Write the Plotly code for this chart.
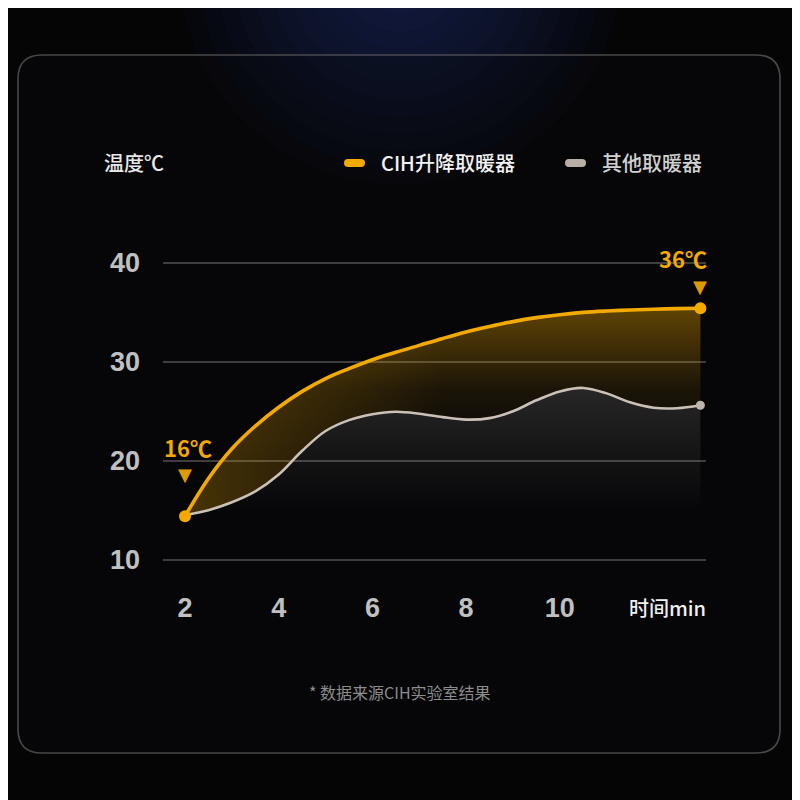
import plotly.graph_objects as go

# data (minutes, degrees C)
cih_time = [2, 2.5, 3, 3.5, 4, 4.5, 5, 5.5, 6, 6.5, 7, 7.5, 8, 8.5, 9, 9.5, 10, 10.5, 11, 11.5, 12, 12.5, 13]
cih_temp = [14.4, 18.2, 21.2, 23.5, 25.4, 27.0, 28.3, 29.3, 30.2, 30.95, 31.65, 32.35, 33.0, 33.55,
            34.05, 34.45, 34.75, 34.98, 35.12, 35.22, 35.3, 35.36, 35.4]

other_time = [2, 2.5, 3, 3.5, 4, 4.5, 5, 5.5, 6, 6.5, 7, 7.5, 8, 8.5, 9, 9.5, 10, 10.5, 11, 11.5, 12, 12.5, 13]
other_temp = [14.5, 15.0, 15.8, 16.9, 18.6, 21.0, 23.0, 24.1, 24.7, 24.95, 24.75, 24.4, 24.15, 24.3,
              25.0, 26.1, 27.0, 27.35, 26.8, 25.9, 25.35, 25.3, 25.6]

y_ticks = [10, 20, 30, 40]
x_ticks = [2, 4, 6, 8, 10]

series_names = ["CIH升降取暖器", "其他取暖器"]
start_label = "16℃"
end_label = "36℃"

ORANGE = "#f2a900"
GREY = "#cbc1b8"
CJK = "Noto Sans CJK SC"

W = H = 800
OFF = 8  # page puts the figure 8px in from the corner


def px(x, y):
    # page pixel -> paper coords
    return (x - OFF) / W, 1 - (y - OFF) / H


def rounded_path(x0, y0, x1, y1, r):
    pts = [("M", [(x0 + r, y0)]), ("L", [(x1 - r, y0)]), ("Q", [(x1, y0), (x1, y0 + r)]),
           ("L", [(x1, y1 - r)]), ("Q", [(x1, y1), (x1 - r, y1)]), ("L", [(x0 + r, y1)]),
           ("Q", [(x0, y1), (x0, y1 - r)]), ("L", [(x0, y0 + r)]), ("Q", [(x0, y0), (x0 + r, y0)])]
    out = ""
    for cmd, ps in pts:
        out += cmd + " " + " ".join("%.5f,%.5f" % px(a, b) for a, b in ps) + " "
    return out + "Z"


fig = go.Figure()

# grey area under the other heater's curve
fig.add_trace(go.Scatter(
    x=other_time, y=other_temp, mode="lines", line=dict(width=0, color="rgba(0,0,0,0)", shape="spline"),
    fill="tozeroy",
    fillgradient=dict(type="vertical", start=15, stop=27,
                      colorscale=[[0, "rgba(200,190,180,0)"], [1, "rgba(200,190,180,0.17)"]]),
    hoverinfo="skip", showlegend=False))

# orange band between the two curves
fig.add_trace(go.Scatter(
    x=cih_time, y=cih_temp, mode="lines", line=dict(width=0, color="rgba(0,0,0,0)", shape="spline"),
    fill="tonexty",
    fillgradient=dict(type="vertical", start=20, stop=36,
                      colorscale=[[0, "rgba(242,169,0,0)"], [0.45, "rgba(242,169,0,0.09)"],
                                  [1, "rgba(242,169,0,0.4)"]]),
    hoverinfo="skip", showlegend=False))

fig.add_trace(go.Scatter(
    x=other_time, y=other_temp, mode="lines", line=dict(width=0, color="rgba(0,0,0,0)", shape="spline"),
    hoverinfo="skip", showlegend=False))
fig.add_trace(go.Scatter(
    x=cih_time, y=cih_temp, mode="lines", line=dict(width=0, color="rgba(0,0,0,0)", shape="spline"),
    fill="tonexty",
    fillgradient=dict(type="horizontal", start=2, stop=7.5,
                      colorscale=[[0, "rgba(242,169,0,0.28)"], [1, "rgba(242,169,0,0)"]]),
    hoverinfo="skip", showlegend=False))

# the lines
fig.add_trace(go.Scatter(x=other_time, y=other_temp, mode="lines",
                         line=dict(color=GREY, width=2.6, shape="spline", smoothing=1.0),
                         name=series_names[1], showlegend=False))
fig.add_trace(go.Scatter(x=cih_time, y=cih_temp, mode="lines",
                         line=dict(color=ORANGE, width=3.6, shape="spline", smoothing=1.0),
                         name=series_names[0], showlegend=False))
fig.add_trace(go.Scatter(x=[other_time[-1]], y=[other_temp[-1]], mode="markers",
                         marker=dict(color="#bdb4ad", size=9), showlegend=False, cliponaxis=False))
fig.add_trace(go.Scatter(x=[cih_time[0], cih_time[-1]], y=[cih_temp[0], cih_temp[-1]], mode="markers",
                         marker=dict(color=ORANGE, size=12), showlegend=False, cliponaxis=False))

shapes = []
# blue glow at the top
for i in range(11):
    rx = 40 + 18 * i
    ry = 45 + 17 * i
    cx, cy = 400, -30
    x0, y0 = px(cx - rx, cy - ry)
    x1, y1 = px(cx + rx, cy + ry)
    shapes.append(dict(type="circle", xref="paper", yref="paper", x0=x0, x1=x1, y0=y1, y1=y0,
                       fillcolor="rgba(35,52,125,0.06)", line=dict(width=0), layer="below"))
# panel
shapes.append(dict(type="path", xref="paper", yref="paper", path=rounded_path(18, 55, 780, 753, 24),
                   fillcolor="rgba(10,10,12,0.3)", line=dict(color="rgba(95,95,95,0.75)", width=1.6),
                   layer="below"))
# legend pills
for x0p, col in [(344, ORANGE), (565, "#b8aea6")]:
    shapes.append(dict(type="path", xref="paper", yref="paper",
                       path=rounded_path(x0p, 159, x0p + 21, 167, 4),
                       fillcolor=col, line=dict(width=0), layer="above"))

annotations = []


def note(text, x, y, size, color, anchor="left", weight="normal", family=CJK):
    xp, yp = px(x, y)
    annotations.append(dict(text=text, x=xp, y=yp, xref="paper", yref="paper", showarrow=False,
                            xanchor=anchor, yanchor="middle",
                            font=dict(size=size, color=color, family=family, weight=weight)))


note("温度℃", 102, 163, 20, "#e8e8e8", weight=500)
note(series_names[0], 379, 163, 20, "#f2f2f2", weight=500)
note(series_names[1], 600, 163, 20, "#d0d0d0", weight=500)
note("时间min", 708, 607, 20, "#f0f0f0", anchor="right", weight=500)
note("* 数据来源CIH实验室结果", 400, 692, 16, "#8c8c8c", anchor="center")

# value callouts tied to the first / last points
for xv, yv, txt, xa, xs, ys in [(cih_time[0], cih_temp[0], start_label, "center", 3, 69),
                                (cih_time[-1], cih_temp[-1], end_label, "right", 9, 50)]:
    annotations.append(dict(text=txt, x=xv, y=yv, xref="x", yref="y", showarrow=False,
                            xanchor=xa, yanchor="middle", xshift=xs, yshift=ys,
                            font=dict(size=22, color=ORANGE, family=CJK, weight="bold")))
for xv, yv, ys in [(cih_time[0], cih_temp[0], 42), (cih_time[-1], cih_temp[-1], 22)]:
    annotations.append(dict(text="▼", x=xv, y=yv, xref="x", yref="y", showarrow=False,
                            xanchor="center", yanchor="middle", yshift=ys,
                            font=dict(size=18, color="#dc9c08", family="DejaVu Sans")))

plot_l, plot_r, plot_t, plot_b = px(163, 223.1)[0], px(706, 0)[0], px(0, 223.1)[1], px(0, 579.5)[1]
tick_font = dict(family="Liberation Sans", size=27, color="#c0c0c0", weight="bold")

fig.update_layout(
    width=W, height=H, margin=dict(l=0, r=0, t=0, b=0),
    paper_bgcolor="#050506", plot_bgcolor="rgba(0,0,0,0)",
    shapes=shapes, annotations=annotations, showlegend=False,
    xaxis=dict(domain=[plot_l, plot_r], range=[1.53, 13.12], tickvals=x_ticks,
               showgrid=False, zeroline=False, showline=False, ticks="", ticklabelstandoff=9,
               tickfont=tick_font, fixedrange=True),
    yaxis=dict(domain=[plot_b, plot_t], range=[8, 44], tickvals=y_ticks,
               showgrid=True, gridcolor="rgba(110,110,110,0.55)", gridwidth=1.6,
               zeroline=False, showline=False, ticks="", ticklabelstandoff=22,
               tickfont=tick_font, fixedrange=True),
)

fig.write_html("out.html")
